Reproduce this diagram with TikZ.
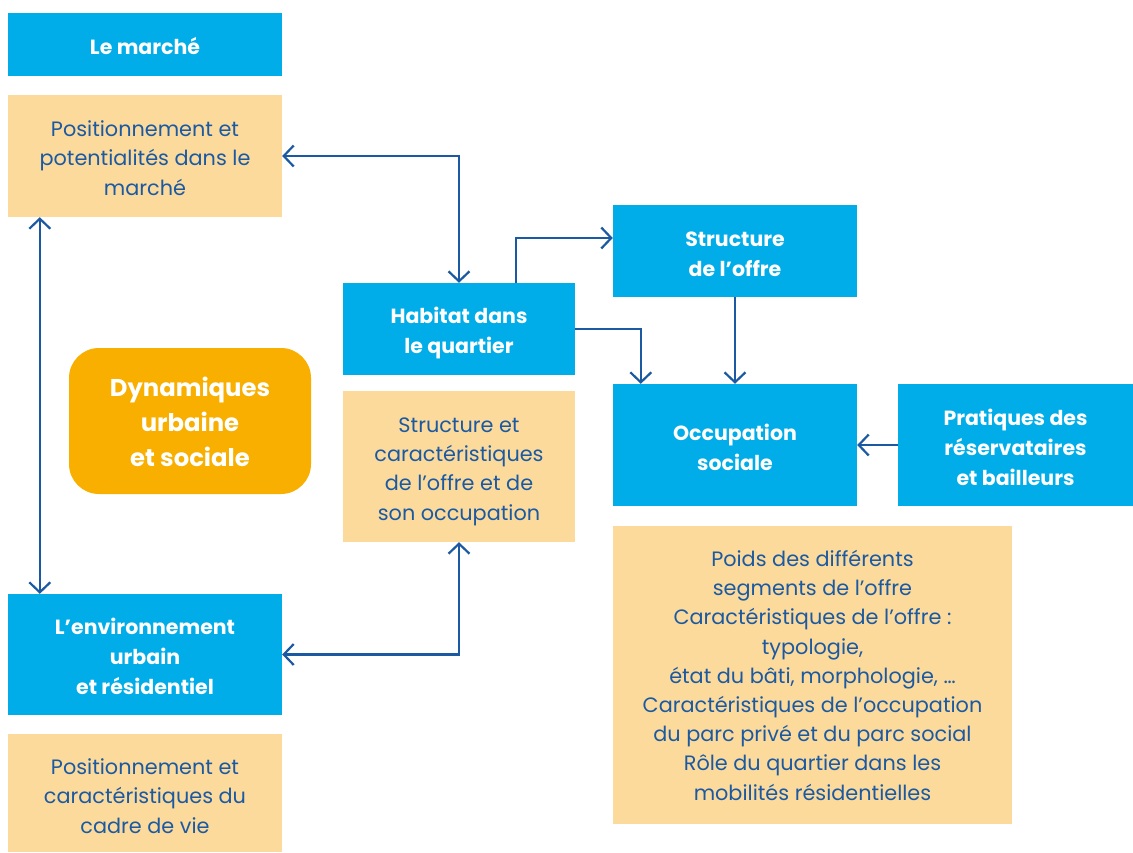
\documentclass[tikz,border=0pt]{standalone}
\usepackage{fontspec}
\setmainfont{Poppins}
\usetikzlibrary{arrows.meta,calc}
\definecolor{boxblue}{HTML}{00ADE9}
\definecolor{peach}{HTML}{FCDA9C}
\definecolor{amber}{HTML}{F8AF00}
\definecolor{navy}{HTML}{1B5AA2}
% centred lines on uniform struts, set a little low in the box
\newcommand\boxlines[2][-4pt]{\raisebox{#1}[\height][\depth]{\begin{tabular}{@{}c@{}}#2\end{tabular}}}
\begin{document}
\begin{tikzpicture}[x=1pt,y=-1pt,
  base/.style={inner sep=0pt},
  bluebox/.style={base, fill=boxblue, text=white, font=\fontsize{20.5}{30}\selectfont\bfseries},
  peachbox/.style={base, fill=peach, text=navy, font=\fontsize{20.8}{29.2}\selectfont},
  linkline/.style={draw=navy, line width=2.2pt},
  arr/.style={linkline, -{Straight Barb[length=10pt,width=21pt,line width=2.2pt]}},
  dbl/.style={linkline, {Straight Barb[length=10pt,width=21pt,line width=2.2pt]}-{Straight Barb[length=10pt,width=21pt,line width=2.2pt]}}]
\useasboundingbox (0,0) rectangle (1133,852);

% left column
\node[bluebox, minimum width=274, minimum height=63] (marche) at (145,44.5) {\boxlines{Le marché}};
\node[peachbox, minimum width=274, minimum height=122] (posmarche) at (145,156)
  {\boxlines{Positionnement et\\potentialités dans le\\marché}};
\node[base, fill=amber, rounded corners=30pt, text=white, minimum width=242, minimum height=146,
  font=\fontsize{24.3}{35}\selectfont\bfseries] (dyn) at (190,421) {\boxlines[-3pt]{Dynamiques\\urbaine\\et sociale}};
\node[bluebox, minimum width=274, minimum height=121] (env) at (145,654.5)
  {\boxlines{L’environnement\\urbain\\et résidentiel}};
\node[peachbox, minimum width=274, minimum height=118] (cadre) at (145,793)
  {\boxlines[-5pt]{Positionnement et\\caractéristiques du\\cadre de vie}};

% middle column
\node[bluebox, minimum width=232, minimum height=92] (habitat) at (459,329)
  {\boxlines[-3pt]{Habitat dans\\le quartier}};
\node[peachbox, minimum width=232, minimum height=151] (structcar) at (459,466.5)
  {\boxlines{Structure et\\caractéristiques\\de l’offre et de\\son occupation}};

% right part
\node[bluebox, minimum width=244, minimum height=92] (offre) at (735,251)
  {\boxlines{Structure\\de l’offre}};
\node[bluebox, minimum width=244, minimum height=122] (occup) at (735,445)
  {\boxlines{Occupation\\sociale}};
\node[bluebox, minimum width=235, minimum height=122] (prat) at (1015.5,445)
  {\boxlines{Pratiques des\\réservataires\\et bailleurs}};
\node[peachbox, minimum width=399, minimum height=298] (detail) at (812.5,675)
  {\boxlines[-2.5pt]{Poids des différents\\segments de l’offre\\Caractéristiques de l’offre :\\typologie,\\état du bâti, morphologie, …\\Caractéristiques de l’occupation\\du parc privé et du parc social\\Rôle du quartier dans les\\mobilités résidentielles}};

% connectors
\draw[dbl] (posmarche.east) -| (habitat.north);
\draw[dbl] ($(posmarche.south west)+(32,0)$) -- ($(env.north west)+(32,0)$);
\draw[dbl] (env.east) -| (structcar.south);
\draw[arr] ($(habitat.north)+(57,0)$) |- ($(offre.west)+(0,-13)$);
\draw[arr] (habitat.east) -| ($(occup.north west)+(28,0)$);
\draw[arr] (offre.south) -- (occup.north);
\draw[arr] (prat.west) -- (occup.east);
\end{tikzpicture}
\end{document}
